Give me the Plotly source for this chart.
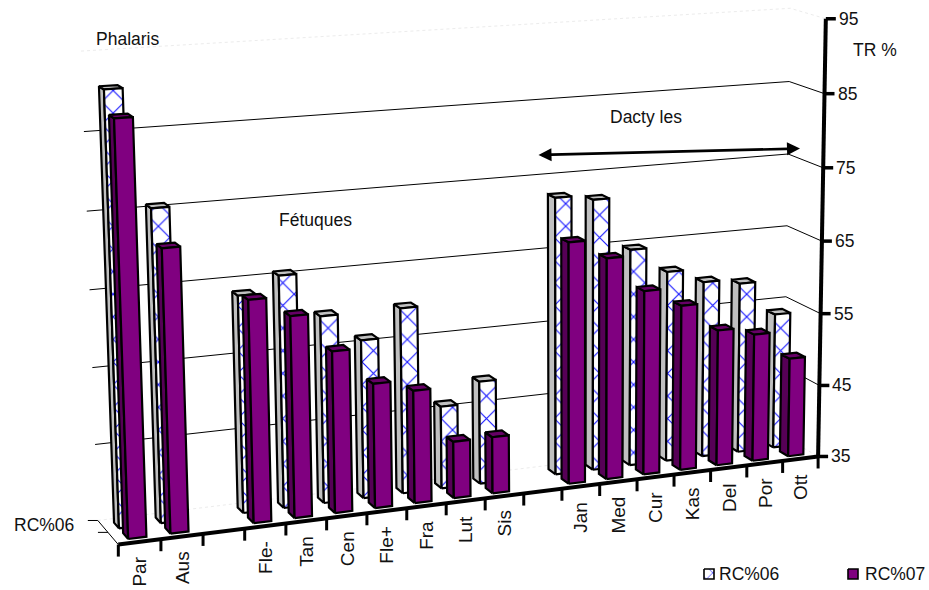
import numpy as np
import plotly.graph_objects as go

# Values per cultivar; None marks the empty slots that separate the species groups
categories = ["Par", "Aus", "", "Fle-", "Tan", "Cen", "Fle+", "Fra", "Lut", "Sis", "",
              "Jan", "Med", "Cur", "Kas", "Del", "Por", "Ott"]
rc06 = [90.8, 75.6, None, 63.5, 65.6, 59.8, 56.1, 59.8, 46.1, 48.9, None,
        72.6, 71.9, 64.7, 61.2, 59.3, 58.6, 53.8]
rc07 = [88.0, 71.5, None, 64.0, 61.4, 56.3, 51.5, 50.0, 42.6, 42.6, None,
        67.6, 65.0, 60.1, 57.6, 53.7, 52.6, 48.7]
value_ticks = [35, 45, 55, 65, 75, 85, 95]
V_MIN, V_MAX = value_ticks[0], value_ticks[-1]

# Box corners on the page: (along categories, depth, height) -> pixel
BOX = [
    ((0, 0, 0), (118, 546)), ((1, 0, 0), (817, 453)),
    ((1, 0, 1), (828, 19)), ((0, 0, 1), (101, 66)),
    ((0, 1, 0), (98, 519)), ((1, 1, 0), (785, 440)),
    ((1, 1, 1), (788, 8)), ((0, 1, 1), (82, 49)),
]


def solve_camera(box):
    rows = []
    for (a, b, c), (px, py) in box:
        rows.append([a, b, c, 1, 0, 0, 0, 0, -px * a, -px * b, -px * c, -px])
        rows.append([0, 0, 0, 0, a, b, c, 1, -py * a, -py * b, -py * c, -py])
    return np.linalg.svd(np.array(rows, float))[2][-1].reshape(3, 4)


CAM = solve_camera(BOX)


def project(u, d, v):
    """Map category position (0..n), depth (0..1) and value to page pixels."""
    p = CAM @ np.array([u / len(categories), d, (v - V_MIN) / (V_MAX - V_MIN), 1.0])
    return p[0] / p[2], p[1] / p[2]


fig = go.Figure()


def poly(points, fill=None, pattern=None, width=2.2, color="black"):
    xs, ys = zip(*points)
    kw = {"fillpattern": pattern} if pattern else {}
    fig.add_trace(go.Scatter(
        x=list(xs) + [xs[0]], y=list(ys) + [ys[0]], mode="lines",
        fill="toself", fillcolor=fill or "white",
        line=dict(color=color, width=width), hoverinfo="skip", showlegend=False, **kw))


def line(points, color="black", width=1.0, dash="solid"):
    xs, ys = zip(*points)
    fig.add_trace(go.Scatter(x=xs, y=ys, mode="lines", line=dict(color=color, width=width, dash=dash),
                             hoverinfo="skip", showlegend=False))


N = len(categories)
FAINT = "#ececec"

# Wall outlines, barely visible
line([project(0, 1, V_MIN), project(N, 1, V_MIN), project(N, 0, V_MIN)], FAINT, 1, "dot")
line([project(0, 1, V_MAX), project(N, 1, V_MAX), project(N, 0, V_MAX)], FAINT, 1, "dot")

# Gridlines across the back wall and the right-hand wall
for v in value_ticks[1:-1]:
    line([project(0, 1, v), project(N, 1, v), project(N, 0, v)], "black", 1.0)

# Depth axis with its two ticks
corner = project(0, 0, V_MIN)
back = project(0, 1, V_MIN)
mid = project(0, 0.5, V_MIN)
line([corner, back, (back[0] - 10, back[1])], "black", 1.0)
line([mid, (mid[0] - 10, mid[1])], "black", 1.0)

PATTERN = dict(shape="x", size=16, solidity=0.14, fgcolor="#1a1aff", bgcolor="white", fillmode="replace")
LEFT, RIGHT = 0.31, 0.74


def draw_bar(i, value, d0, d1, face, side, top, pattern=None):
    u0, u1 = i + LEFT, i + RIGHT
    a = project(u0, d0, V_MIN)
    b = project(u1, d0, V_MIN)
    c = project(u1, d0, value)
    e = project(u0, d0, value)
    f = project(u0, d1, value)
    g = project(u0, d1, V_MIN)
    h = project(u1, d1, value)
    poly([a, e, f, g], side)
    poly([e, c, h, f], top)
    poly([a, b, c, e], face, pattern)


# Rear row first, then the front row; right to left so nearer bars overlap
for i in range(N - 1, -1, -1):
    if rc06[i] is not None:
        draw_bar(i, rc06[i], 0.60, 0.84, "white", "#c0c0c0", "#c0c0c0", PATTERN)
for i in range(N - 1, -1, -1):
    if rc07[i] is not None:
        draw_bar(i, rc07[i], 0.16, 0.40, "#800080", "#560056", "#660066")

# Front category axis with ticks on the slot boundaries
line([project(0, 0, V_MIN), project(N, 0, V_MIN)], "black", 4)
for i in range(N + 1):
    x, y = project(i, 0, V_MIN)
    line([(x, y), (x, y + 12)], "black", 3)

# Value axis on the front right edge
line([project(N, 0, V_MIN), project(N, 0, V_MAX)], "black", 4)
for v in value_ticks:
    x, y = project(N, 0, v)
    line([(x, y), (x + 10, y)], "black", 3.5)

FONT = dict(family="Liberation Sans, Arial, sans-serif", size=17.5, color="#111111")
CAT_FONT = dict(FONT, size=19)
annotations = []


def label(x, y, text, xanchor="left", yanchor="middle", angle=0, font=FONT):
    annotations.append(dict(x=x, y=y, xref="x", yref="y", text=text, showarrow=False, font=font,
                            xanchor=xanchor, yanchor=yanchor, textangle=angle))


for v in value_ticks:
    x, y = project(N, 0, v)
    label(x + 11, y, str(v))
for i, name in enumerate(categories):
    if name:
        x, y = project(i + 0.5, 0, V_MIN)
        label(x, y + 13, name, "center", "top", -90, CAT_FONT)

label(94, 39, "Phalaris")
label(277, 220, "Fétuques")
label(608, 117, "Dacty les")
label(851, 50, "TR %")
label(12, 525, "RC%06")

# Double-headed arrow over the Dactyles group
annotations.append(dict(x=800, y=148.5, ax=537, ay=155, xref="x", yref="y", axref="x", ayref="y", text="",
                        showarrow=True, arrowside="end+start", arrowhead=2, arrowsize=1, arrowwidth=2.6,
                        arrowcolor="black", startarrowhead=2, startarrowsize=1))

# Legend keys
poly([(704, 569), (714, 569), (714, 579), (704, 579)], "white", dict(PATTERN, size=9), 1.6)
poly([(848, 569), (858, 569), (858, 579), (848, 579)], "#800080", None, 1.6)
label(717, 574, "RC%06")
label(863, 574, "RC%07")

fig.update_layout(
    width=929, height=590, margin=dict(l=0, r=0, t=0, b=0),
    paper_bgcolor="white", plot_bgcolor="white", showlegend=False, annotations=annotations,
    xaxis=dict(range=[0, 929], visible=False, fixedrange=True),
    yaxis=dict(range=[590, 0], visible=False, fixedrange=True),
)
fig.write_html("out.html", config={"displayModeBar": False})
